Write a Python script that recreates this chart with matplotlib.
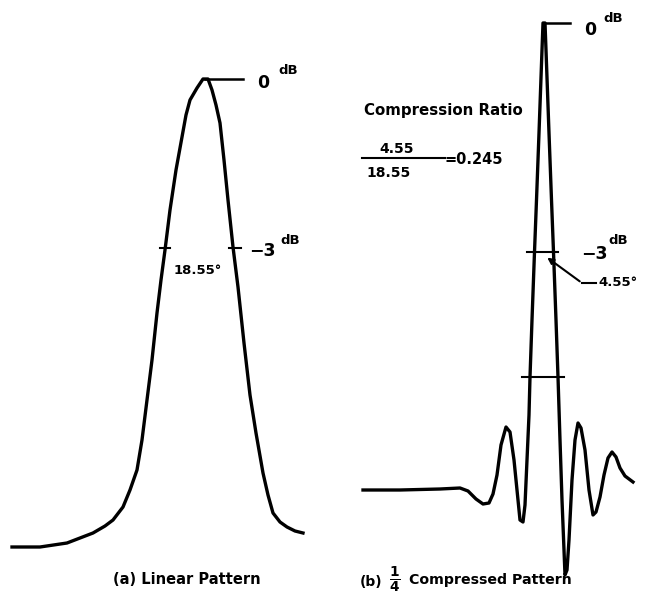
import matplotlib.pyplot as plt

# traced points of the two patterns (picture units, y grows downward)
lin_x = [12, 40, 67, 80, 93, 105, 113, 123, 130, 137, 142, 147, 152, 157, 161, 165,
         170, 176, 182, 186, 190, 197, 203, 208, 212, 216, 220, 224, 228, 233, 238,
         244, 250, 256, 263, 268, 273, 280, 287, 295, 303]
lin_y = [547, 547, 543, 538, 533, 526, 520, 507, 490, 470, 440, 400, 360, 313, 280, 250,
         210, 170, 137, 115, 100, 88, 79, 79, 90, 105, 123, 160, 200, 247, 287,
         343, 395, 433, 473, 495, 513, 522, 527, 531, 533]

cmp_x = [363, 400, 440, 460, 468, 476, 483, 489, 493, 497, 501, 506, 510, 514, 518, 520,
         523, 525, 527, 529, 530, 532, 534.5, 536.5, 539, 542, 543, 545, 546, 549, 551.5, 553.5, 556,
         558, 560, 562, 564, 565, 567, 569, 572, 575, 578, 581, 585, 589, 593, 596, 600,
         604, 608, 612, 616, 620, 625, 633]
cmp_y = [490, 490, 489, 488, 491, 499, 504, 503, 494, 475, 445, 427, 432, 460, 500, 520,
         522, 505, 460, 415, 377, 320, 252, 200, 133, 50, 23, 23, 50, 133, 200, 252, 320,
         377, 440, 500, 550, 575, 570, 540, 480, 440, 423, 428, 450, 490, 515, 512, 497,
         475, 458, 452, 457, 468, 476, 482]

font = dict(family="DejaVu Sans", fontweight="bold", color="black")
lw = 2.4

fig = plt.figure(figsize=(6.46, 6.05), dpi=100)
ax = fig.add_axes([0, 0, 1, 1])
ax.set_xlim(0, 646)
ax.set_ylim(605, 0)
ax.axis("off")

# (a) linear pattern
ax.plot(lin_x, lin_y, color="black", lw=lw, solid_joinstyle="round")
ax.plot([205, 243], [79, 79], color="black", lw=1.8)
ax.plot([160, 170], [248, 248], color="black", lw=1.5)
ax.plot([229, 241], [248, 248], color="black", lw=1.5)
ax.text(263, 83, "0", fontsize=12.5, ha="center", va="center", **font)
ax.text(288, 70, "dB", fontsize=9.5, ha="center", va="center", **font)
ax.text(262, 251, "\u22123", fontsize=12.5, ha="center", va="center", **font)
ax.text(290, 240, "dB", fontsize=9.5, ha="center", va="center", **font)
ax.text(198, 270, "18.55\u00b0", fontsize=9.5, ha="center", va="center", **font)
ax.text(187, 580, "(a) Linear Pattern", fontsize=10.5, ha="center", va="center", **font)

# (b) compressed pattern
ax.plot(cmp_x, cmp_y, color="black", lw=lw, solid_joinstyle="round")
ax.plot([545, 570], [23, 23], color="black", lw=1.8)
ax.plot([527, 558], [252, 252], color="black", lw=1.5)
ax.plot([522, 564], [377, 377], color="black", lw=1.5)
ax.text(590, 30, "0", fontsize=12.5, ha="center", va="center", **font)
ax.text(613, 18, "dB", fontsize=9.5, ha="center", va="center", **font)
ax.text(594, 254, "\u22123", fontsize=12.5, ha="center", va="center", **font)
ax.text(618, 240, "dB", fontsize=9.5, ha="center", va="center", **font)
ax.annotate("", xy=(545, 256), xytext=(582, 283),
            arrowprops=dict(arrowstyle="-|>", color="black", lw=1.5, mutation_scale=9))
ax.plot([582, 596], [283, 283], color="black", lw=1.5)
ax.text(618, 283, "4.55\u00b0", fontsize=9.5, ha="center", va="center", **font)

ax.text(443, 110, "Compression Ratio", fontsize=10.8, ha="center", va="center", **font)
ax.text(397, 149, "4.55", fontsize=10, ha="center", va="center", **font)
ax.plot([362, 445], [158, 158], color="black", lw=1.5)
ax.text(389, 173, "18.55", fontsize=10, ha="center", va="center", **font)
ax.text(444, 160, "=0.245", fontsize=10.5, ha="left", va="center", **font)

ax.text(360, 582, "(b)", fontsize=10, ha="left", va="center", **font)
ax.text(395, 580, r"$\mathbf{\frac{1}{4}}$", fontsize=14, ha="center", va="center", color="black")
ax.text(409, 580, "Compressed Pattern", fontsize=10.2, ha="left", va="center", **font)

fig.savefig("out.png", dpi=100)
